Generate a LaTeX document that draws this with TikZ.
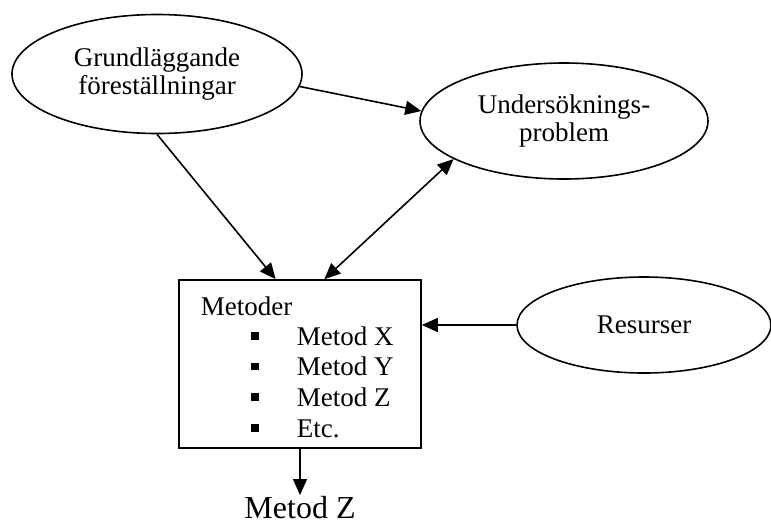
\documentclass[tikz,border=0pt]{standalone}
\usepackage{fontspec}
\setmainfont{Liberation Serif}
\usetikzlibrary{shapes.geometric,arrows.meta,calc}

\tikzset{
  tip/.style={-{Triangle[length=16pt,width=14pt]}},
  dtip/.style={{Triangle[length=16pt,width=14pt]}-{Triangle[length=16pt,width=14pt]}},
  bubble/.style={draw,ellipse,align=center,inner sep=0pt},
  txt/.style={font=\fontsize{27}{27.5}\selectfont},
}

\begin{document}
\begin{tikzpicture}[x=1pt,y=-1pt,line width=1.6pt,txt]
  \useasboundingbox (0,0) rectangle (771,528);
  % ellipses
  \node[bubble,minimum width=290pt,minimum height=119pt] (grund) at (157,74)
    {Grundläggande\\föreställningar};
  \node[bubble,minimum width=288pt,minimum height=116pt] (unders) at (564,121)
    {Undersöknings-\\problem};
  \node[bubble,minimum width=254pt,minimum height=96pt] (resurs) at (644,325)
    {Resurser};
  % box with methods
  \node[draw,minimum width=242pt,minimum height=168pt] (metoder) at (300,364) {};
  \node[anchor=base west,inner sep=0pt] (rubrik) at (200,315) {Metoder};
  \foreach \t [count=\i from 0] in {Metod X,Metod Y,Metod Z,Etc.} {
    \node[anchor=base west,inner sep=0pt] (item\i) at (296,345+30.7*\i) {\t};
    \fill ($(item\i.base west)+(-45,-13)$) rectangle ++(7.5,7.5);
  }
  \node[anchor=north,inner sep=0pt,font=\fontsize{32}{34}\selectfont] (val) at (300,495) {Metod Z};
  % arrows
  \draw[tip] (grund.-5.5) -- (unders.176);
  \draw[tip] (grund.south) -- ($(metoder.north west)!0.4!(metoder.north east)$);
  \draw[dtip] ($(metoder.north west)!0.6!(metoder.north east)$) -- (unders.199);
  \draw[tip] (resurs.west) -- (metoder.east |- resurs.west);
  \draw[tip] (metoder.south) -- (val.north);
\end{tikzpicture}
\end{document}
